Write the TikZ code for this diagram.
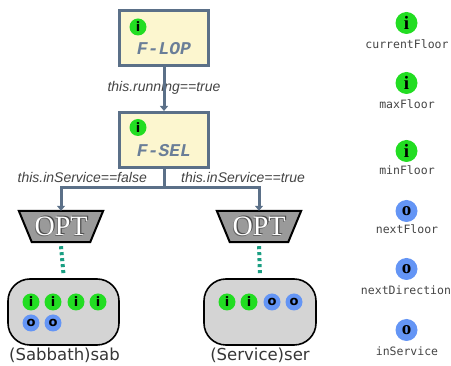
\documentclass[tikz,border=0pt]{standalone}
\usepackage{fontspec}
\setmainfont{Liberation Serif}
\setsansfont{DejaVu Sans}
\setmonofont{DejaVu Sans Mono}
\newfontfamily\labfont{Liberation Sans}
\newfontfamily\boxfont{Liberation Mono}
\usetikzlibrary{arrows.meta}
\definecolor{slate}{HTML}{5B7088}
\definecolor{boxfill}{HTML}{FCF6CF}
\definecolor{boxtext}{HTML}{6A7E98}
\definecolor{igreen}{HTML}{22DD22}
\definecolor{oblue}{HTML}{6495F5}
\definecolor{dashteal}{HTML}{1A9E82}
\definecolor{labgray}{HTML}{444444}
\definecolor{optgray}{HTML}{9A9A9A}
\definecolor{featgray}{HTML}{D4D4D4}
\tikzset{
  featbox/.style={draw=slate, line width=3pt, fill=boxfill, minimum width=89pt, minimum height=55pt, inner sep=0pt},
  feattext/.style={text=boxtext, font=\boxfont\fontsize{18}{18}\selectfont\bfseries\itshape},
  smallmark/.style={circle, minimum size=17pt, inner sep=0pt, font=\sffamily\bfseries\fontsize{13}{13}\selectfont},
  imark/.style={smallmark, fill=igreen},
  omark/.style={smallmark, fill=oblue},
  bigmark/.style={circle, minimum size=22pt, inner sep=0pt, font=\rmfamily\bfseries\fontsize{19}{19}\selectfont},
  conn/.style={draw=slate, line width=3pt, -{Triangle[width=8pt,length=5pt]}},
  condlabel/.style={text=labgray, font=\labfont\itshape\fontsize{14}{14}\selectfont, inner sep=0pt},
  optbox/.style={minimum width=84pt, minimum height=31pt, inner sep=0pt},
  optshape/.style={fill=optgray, draw=black, line width=2pt},
  opttext/.style={font=\rmfamily\fontsize{28}{28}\selectfont},
  instbox/.style={draw=black, line width=1.6pt, fill=featgray, rounded corners=22pt, minimum height=66pt, inner sep=0pt},
  instlabel/.style={text=labgray!80!black, font=\sffamily\fontsize{16.5}{16.5}\selectfont, inner sep=0pt},
  attrlabel/.style={text=labgray, font=\ttfamily\fontsize{11.5}{11.5}\selectfont, inner sep=0pt},
  mandatory/.style={draw=dashteal, line width=4pt, dash pattern=on 3pt off 3pt},
}
\begin{document}
\begin{tikzpicture}[x=1pt,y=-1pt]
\useasboundingbox (0,0) rectangle (451,366);
% feature boxes
\node[featbox] (flop) at (164,38.5) {};
\node[imark] (flopi) at (138,27) {i};
\node[feattext] (flopt) at (164,49) {F-LOP};
\node[featbox] (fsel) at (164,140) {};
\node[imark] (fseli) at (138,127.5) {i};
\node[feattext] (fselt) at (164,151) {F-SEL};
% connector flop -> fsel
\node[condlabel] (lrun) at (164,88) {this.running==true};
\draw[conn] (flop.south) -- (fsel.north);
% OPT nodes
\node[optbox] (optL) at (61,226.5) {};
\node[optbox] (optR) at (259,226.5) {};
\foreach \o in {optL,optR}{
  \path[optshape] (\o.north west) -- (\o.north east) -- ([xshift=-13pt]\o.south east) -- ([xshift=13pt]\o.south west) -- cycle;
  \node[opttext, text=black!70] at ([xshift=1.3pt,yshift=1.3pt]\o.center) {OPT};
  \node[opttext, text=black!60] at ([xshift=-0.7pt,yshift=-0.7pt]\o.center) {OPT};
  \node[opttext, text=white] at (\o.center) {OPT};
}
% branch connectors
\coordinate (split) at (164,188);
\draw[slate, line width=3pt] (fsel.south) -- (split);
\draw[conn] (split) -| (optL.north);
\draw[conn] (split) -| (optR.north);
\node[condlabel, anchor=east] (lfalse) at (147,177) {this.inService==false};
\node[condlabel, anchor=west] (ltrue) at (181,177) {this.inService==true};
% instance boxes
\node[instbox, minimum width=111pt] (sab) at (63.5,312) {};
\node[instbox, minimum width=112pt] (ser) at (260,312) {};
\draw[mandatory] (optL.south) ++(0,4) -- ([yshift=4pt]sab.north);
\draw[mandatory] (optR.south) ++(0,4) -- ([yshift=4pt]ser.north);
\node[imark] (s1) at (31,302) {i};
\node[imark] (s2) at (53,302) {i};
\node[imark] (s3) at (76,302) {i};
\node[imark] (s4) at (98,302) {i};
\node[omark] (s5) at (31,323) {o};
\node[omark] (s6) at (53,323) {o};
\node[imark] (r1) at (227,302) {i};
\node[imark] (r2) at (249,302) {i};
\node[omark] (r3) at (272,302) {o};
\node[omark] (r4) at (294,302) {o};
\node[instlabel] (sabl) at (64.5,355.5) {(Sabbath)sab};
\node[instlabel] (serl) at (260,355.5) {(Service)ser};
% attributes column
\node[bigmark, fill=igreen] (a1) at (406.5,23) {i};
\node[attrlabel] (a1l) at (407,44) {currentFloor};
\node[bigmark, fill=igreen] (a2) at (406.5,83) {i};
\node[attrlabel] (a2l) at (407,104) {maxFloor};
\node[bigmark, fill=igreen] (a3) at (406.5,151) {i};
\node[attrlabel] (a3l) at (407,170) {minFloor};
\node[bigmark, fill=oblue] (a4) at (406.5,211) {o};
\node[attrlabel] (a4l) at (407,229.5) {nextFloor};
\node[bigmark, fill=oblue] (a5) at (406.5,269) {o};
\node[attrlabel] (a5l) at (406,290) {nextDirection};
\node[bigmark, fill=oblue] (a6) at (406.5,330) {o};
\node[attrlabel] (a6l) at (407,351) {inService};
\end{tikzpicture}
\end{document}
